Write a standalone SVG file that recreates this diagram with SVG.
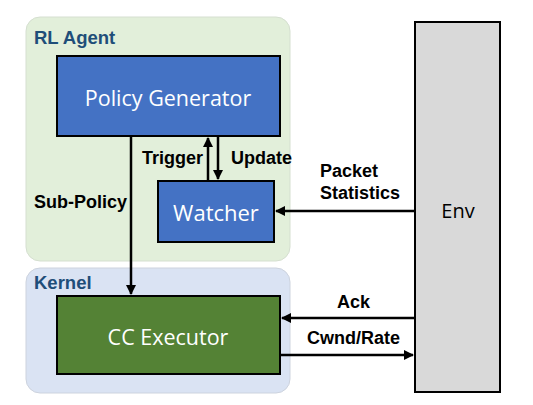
<svg xmlns="http://www.w3.org/2000/svg" width="533" height="405" viewBox="0 0 533 405">
<defs>
<marker id="ah" viewBox="0 0 10 10" refX="9" refY="5" markerWidth="4" markerHeight="4" orient="auto-start-reverse" markerUnits="strokeWidth">
<path d="M0,0 L10,5 L0,10 z" fill="#000"/>
</marker>
</defs>
<style>
.box{stroke:#000;stroke-width:2}
.big{font-family:"Open Sans","Noto Sans",sans-serif;font-size:21.5px;fill:#fff;text-anchor:middle;dominant-baseline:central}
.lbl{font-family:"Liberation Sans",Arial,sans-serif;font-size:18px;font-weight:bold;fill:#000}
.grp{font-family:"Liberation Sans",Arial,sans-serif;font-size:18.5px;font-weight:bold;fill:#1f4e79}
.ln{stroke:#000;stroke-width:2.5;fill:none}
</style>
<g id="rl-agent">
<rect x="26" y="17" width="264" height="244" rx="14" fill="#e2efda" stroke="#d5dfd0" stroke-width="1"/>
<text class="grp" x="34" y="44">RL Agent</text>
</g>
<g id="kernel">
<rect x="26" y="268" width="264" height="125" rx="14" fill="#dae3f3" stroke="#cdd3de" stroke-width="1"/>
<text class="grp" x="34" y="289">Kernel</text>
</g>
<g id="policy-generator">
<rect class="box" x="57" y="56" width="223" height="80" fill="#4472c4"/>
<text class="big" x="168" y="97">Policy Generator</text>
</g>
<g id="watcher">
<rect class="box" x="158" y="181" width="116" height="61" fill="#4472c4"/>
<text class="big" x="216" y="212" style="font-size:22px">Watcher</text>
</g>
<g id="cc-executor">
<rect class="box" x="57" y="296" width="223" height="78" fill="#548235"/>
<text class="big" x="168" y="336">CC Executor</text>
</g>
<g id="env">
<rect class="box" x="415" y="22" width="85" height="370" fill="#d9d9d9"/>
<text class="big" x="458" y="210" style="fill:#000;font-size:20px">Env</text>
</g>
<g id="connectors">
<line class="ln" x1="131" y1="136" x2="131" y2="294" marker-end="url(#ah)"/>
<line class="ln" x1="208" y1="181" x2="208" y2="138" marker-end="url(#ah)"/>
<line class="ln" x1="218" y1="136" x2="218" y2="179" marker-end="url(#ah)"/>
<line class="ln" x1="415" y1="211" x2="276" y2="211" marker-end="url(#ah)"/>
<line class="ln" x1="415" y1="318" x2="282" y2="318" marker-end="url(#ah)"/>
<line class="ln" x1="280" y1="355" x2="413" y2="355" marker-end="url(#ah)"/>
<text class="lbl" x="203" y="164" text-anchor="end">Trigger</text>
<text class="lbl" x="231" y="164">Update</text>
<text class="lbl" x="34" y="208">Sub-Policy</text>
<text class="lbl" x="320" y="177">Packet</text>
<text class="lbl" x="320" y="199">Statistics</text>
<text class="lbl" x="337" y="308">Ack</text>
<text class="lbl" x="307" y="344">Cwnd/Rate</text>
</g>
</svg>
